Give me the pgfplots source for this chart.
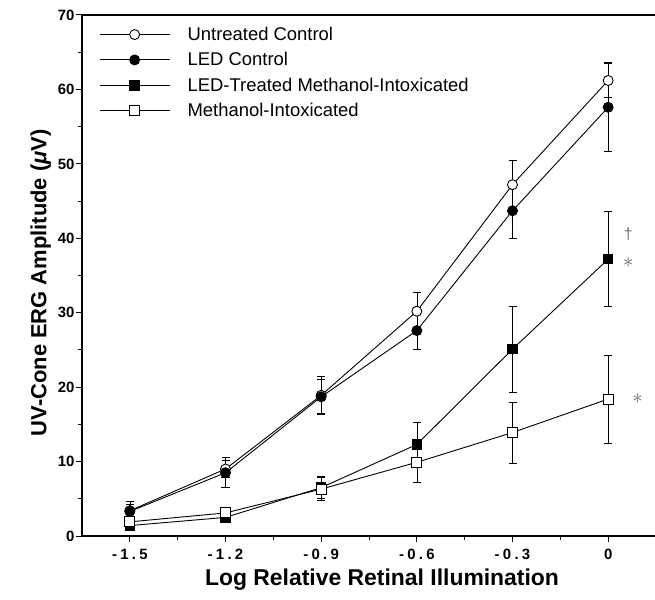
\documentclass[border=0pt]{standalone}
\usepackage{fontspec}
\setmainfont{Liberation Sans}
\newfontfamily\tickfont[LetterSpace=22]{Liberation Sans}
\usepackage{pgfplots}
\usepackage{pgfplotstable}
\pgfplotsset{compat=1.18}

% x = log relative retinal illumination, y = amplitude (uV), err = bar half-length
\pgfplotstableread{
x     y     err
-1.5  3.4   1.3
-1.2  9.0   1.2
-0.9  18.9  2.6
-0.6  30.2  2.5
-0.3  47.2  3.3
0     61.2  2.3
}\untreated
\pgfplotstableread{
x     y     err
-1.5  3.3   1.0
-1.2  8.5   2.0
-0.9  18.7  2.3
-0.6  27.6  2.6
-0.3  43.7  3.7
0     57.6  6.0
}\ledcontrol
\pgfplotstableread{
x     y     err
-1.5  1.4   0.6
-1.2  2.5   0.5
-0.9  6.5   1.5
-0.6  12.3  3.0
-0.3  25.1  5.8
0     37.2  6.4
}\ledtreated
\pgfplotstableread{
x     y     err
-1.5  1.9   0.5
-1.2  3.1   0.5
-0.9  6.3   1.5
-0.6  9.9   2.7
-0.3  13.9  4.1
0     18.4  5.9
}\methanol

\begin{document}
\begin{tikzpicture}
\begin{axis}[
    scale only axis,
    width=574bp, height=521bp,
    xmin=-1.65, xmax=0.15,
    ymin=0, ymax=70,
    xtick={-1.5,-1.2,-0.9,-0.6,-0.3,0},
    xticklabels={-1.5,-1.2,-0.9,-0.6,-0.3,0},
    minor xtick={-1.35,-1.05,-0.75,-0.45,-0.15},
    ytick={0,10,...,70},
    minor ytick={5,15,...,65},
    /pgf/number format/assume math mode=true,
    tick align=outside, tick pos=left,
    major tick length=6bp, minor tick length=4bp,
    every tick/.style={black, line width=1bp},
    axis line style={line width=1.3bp},
    xticklabel style={font=\tickfont\bfseries\fontsize{15}{18}\selectfont, yshift=-4bp},
    yticklabel style={font=\bfseries\fontsize{15}{18}\selectfont, xshift=2bp},
    xlabel={Log Relative Retinal Illumination},
    ylabel={UV-Cone ERG Amplitude (\textit{μ}V)},
    xlabel style={font=\bfseries\fontsize{23}{26}\selectfont, yshift=-2bp, xshift=13bp},
    ylabel style={font=\bfseries\fontsize{22}{26}\selectfont, at={(ticklabel cs:0.486)}},
    legend style={draw=none, fill=none, at={(rel axis cs:0,1)}, anchor=north west,
        xshift=14bp, yshift=-8bp, font=\fontsize{18.5}{21}\selectfont, row sep=6.5bp},
    legend cell align=left,
    legend image code/.code={\draw[mark repeat=2,mark phase=2]
        plot coordinates {(0bp,0bp) (35bp,0bp) (70bp,0bp)};
        \path[draw=none] (70bp,0bp) -- (86bp,0bp);},
    every axis plot/.append style={black, line width=0.9bp},
    error bars/y dir=both, error bars/y explicit,
    error bars/error mark options={rotate=90, mark size=4bp, line width=0.9bp},
]
\addplot[mark=*, mark size=5bp, mark options={fill=white, line width=0.9bp}]
    table[x=x, y=y, y error=err] {\untreated};
\addlegendentry{Untreated Control}
\addplot[mark=*, mark size=5bp, mark options={fill=black}]
    table[x=x, y=y, y error=err] {\ledcontrol};
\addlegendentry{LED Control}
\addplot[mark=square*, mark size=4.7bp, mark options={fill=black}]
    table[x=x, y=y, y error=err] {\ledtreated};
\addlegendentry{LED-Treated Methanol-Intoxicated}
\addplot[mark=square*, mark size=5bp, mark options={fill=white, line width=0.9bp}]
    table[x=x, y=y, y error=err] {\methanol};
\addlegendentry{Methanol-Intoxicated}

\draw[line width=3bp] (rel axis cs:0,0) -- (rel axis cs:1,0);
\node[black!55, font=\fontsize{16}{18}\selectfont] at (axis cs:0.063,40.6) {†};
\node[black!60, font=\fontsize{20}{20}\selectfont] at (axis cs:0.063,36.7) {$\ast$};
\node[black!60, font=\fontsize{20}{20}\selectfont] at (axis cs:0.092,18.5) {$\ast$};
\coordinate (O) at (rel axis cs:0,0);
\end{axis}
\pgfresetboundingbox
\path[use as bounding box] ([xshift=-82bp,yshift=-64bp]O) rectangle ([xshift=573bp,yshift=536bp]O);
\end{tikzpicture}
\end{document}
